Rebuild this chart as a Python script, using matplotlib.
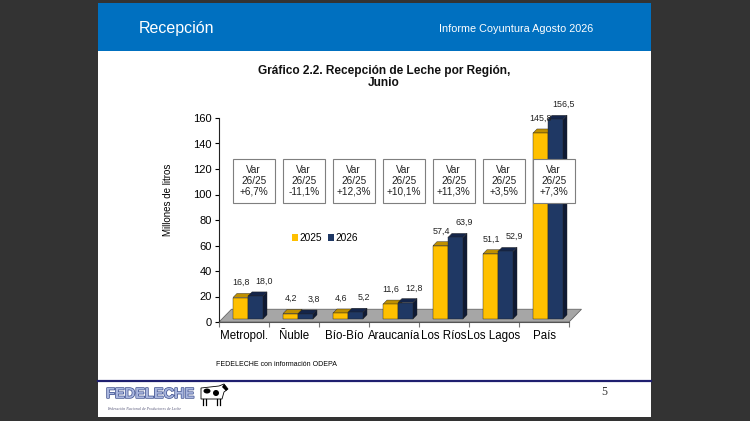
import matplotlib
matplotlib.use("Agg")
import matplotlib.pyplot as plt
from matplotlib.patches import Rectangle, Polygon, Patch, Ellipse
import matplotlib.patheffects as pe

plt.rcParams['font.family'] = ['Liberation Sans', 'DejaVu Sans']

# datos: recepción de leche por región, junio (millones de litros)
regiones = ["Metropol.", "Ñuble", "Bío-Bío", "Araucanía", "Los Ríos", "Los Lagos", "País"]
series = ["2025", "2026"]
recep_2025 = [16.8, 4.2, 4.6, 11.6, 57.4, 51.1, 145.8]
recep_2026 = [18.0, 3.8, 5.2, 12.8, 63.9, 52.9, 156.5]
variacion = ["+6,7%", "-11,1%", "+12,3%", "+10,1%", "+11,3%", "+3,5%", "+7,3%"]
y_ticks = [0, 20, 40, 60, 80, 100, 120, 140, 160]

amarillo = ('#FFC000', '#BF9000', '#8F6C00')
azul = ('#1F3864', '#14254A', '#0E1A35')

fig = plt.figure(figsize=(7.5, 4.21), dpi=100, facecolor='#333333')

# fondo de la diapositiva en pixeles
bg = fig.add_axes([0, 0, 1, 1], zorder=0)
bg.set_xlim(0, 750)
bg.set_ylim(421, 0)
bg.axis('off')
bg.add_patch(Rectangle((98, 2.5), 553, 414.5, facecolor='white', edgecolor='none'))
bg.add_patch(Rectangle((98, 2.5), 553, 48, facecolor='#0070C0', edgecolor='none'))
bg.plot([98, 651], [381, 381], color='#1F1F6F', lw=1.6)
bg.text(139, 29, "Recepción", color='white', fontsize=11.5, va='center', ha='left')
bg.text(439, 29.5, "Informe Coyuntura Agosto 2026", color='white', fontsize=7.8,
        va='center', ha='left')
bg.text(384, 77, "Gráfico 2.2. Recepción de Leche por Región,\nJunio", fontsize=8.6,
        fontweight='bold', ha='center', va='center', multialignment='center',
        linespacing=1.0, color='#111111')
bg.text(168, 200, "Millones de litros", rotation=90, fontsize=7, ha='center', va='center')
bg.text(216, 364, "FEDELECHE con información ODEPA", fontsize=5, ha='left', va='center')
bg.text(604, 392, "5", fontsize=8.5, family='Liberation Serif', ha='center', va='center',
        color='#333333')

# logo
t = bg.text(106, 394, "FEDELECHE", fontsize=10.5, fontweight='bold', color='#A9B6DE',
            ha='left', va='center')
t.set_path_effects([pe.withStroke(linewidth=1.0, foreground='#3A4C8C')])
bg.text(107, 408.5, "Federación Nacional de Productores de Leche", fontsize=2.8,
        style='italic', family='Liberation Serif', color='#555577', ha='left', va='center')
bg.add_patch(Polygon([(201, 388), (219, 386), (224, 384), (228, 389), (224, 392),
                      (222, 399), (201, 399)], facecolor='white', edgecolor='black', lw=0.6))
bg.add_patch(Ellipse((207, 391), 7, 5, facecolor='black'))
bg.add_patch(Ellipse((216, 393), 6, 6, facecolor='black'))
bg.add_patch(Polygon([(224, 384), (228, 389), (226, 391), (222, 387)], facecolor='black'))
for lx in [203, 206, 217, 220]:
    bg.plot([lx, lx], [399, 405], color='black', lw=0.9)

# grafico
ax = fig.add_axes([219 / 750, 1 - 322 / 421, 350 / 750, 204 / 421], zorder=1)
ax.patch.set_alpha(0)
ax.set_xlim(0, 7)
ax.set_ylim(0, 160)
for s in ['top', 'right']:
    ax.spines[s].set_visible(False)
ax.spines['left'].set_color('#222222')
ax.spines['left'].set_linewidth(0.8)
ax.spines['bottom'].set_color('#555555')
ax.spines['bottom'].set_linewidth(0.8)

# piso 3D
fdx, fdy = 0.25, 10
ax.add_patch(Polygon([(0, 0), (7, 0), (7 + fdx, fdy), (fdx, fdy)], closed=True,
                     facecolor='#A6A6A6', edgecolor='#666666', lw=0.6, clip_on=False,
                     zorder=1))

base = 2.4
w = 0.3
dx, dy = 0.08, 3.2


def barra(x0, v, colores):
    frente, arriba, lado = colores
    ax.add_patch(Polygon([(x0 + w, base), (x0 + w + dx, base + dy),
                          (x0 + w + dx, base + v + dy), (x0 + w, base + v)],
                         facecolor=lado, edgecolor='#222222', lw=0.3, clip_on=False, zorder=2))
    ax.add_patch(Polygon([(x0, base + v), (x0 + w, base + v), (x0 + w + dx, base + v + dy),
                          (x0 + dx, base + v + dy)],
                         facecolor=arriba, edgecolor='#222222', lw=0.3, clip_on=False, zorder=2))
    ax.add_patch(Rectangle((x0, base), w, v, facecolor=frente, edgecolor='#222222',
                           lw=0.3, clip_on=False, zorder=2))


def etiqueta(v):
    return f"{v:.1f}".replace(".", ",")


for i in range(len(regiones)):
    barra(i + 0.28, recep_2025[i], amarillo)
    barra(i + 0.58, recep_2026[i], azul)
    ax.text(i + 0.44, recep_2025[i] + 14, etiqueta(recep_2025[i]), fontsize=6.4,
            ha='center', va='center', color='#222222', zorder=3)
    ax.text(i + 0.90, recep_2026[i] + 14, etiqueta(recep_2026[i]), fontsize=6.4,
            ha='center', va='center', color='#222222', zorder=3, clip_on=False)
    # cuadro de variacion
    ax.add_patch(Rectangle((i + 0.27, 93.3), 0.85, 34.5, facecolor='white',
                           edgecolor='#7F7F7F', lw=0.8, zorder=5, clip_on=False))
    ax.text(i + 0.695, 110.6, "Var\n26/25\n" + variacion[i], fontsize=7.2, ha='center',
            va='center', multialignment='center', linespacing=1.1, zorder=6,
            color='#222222')

ax.set_yticks(y_ticks)
ax.tick_params(axis='y', labelsize=8, length=3, pad=2, width=0.8)
ax.set_xticks(range(0, 8))
ax.set_xticklabels([])
ax.set_xticks([i + 0.5 for i in range(len(regiones))], minor=True)
ax.set_xticklabels(regiones, minor=True)
ax.tick_params(axis='x', which='major', length=3.5, color='#777777', width=0.8)
ax.tick_params(axis='x', which='minor', length=0, labelsize=8.3, pad=6)

manijas = [Patch(facecolor=amarillo[0], edgecolor='none'),
           Patch(facecolor=azul[0], edgecolor='none')]
ax.legend(manijas, series, loc='center', bbox_to_anchor=(0.303, 0.412), ncol=2,
          frameon=False, fontsize=7.3, handlelength=0.6, handleheight=0.6,
          handletextpad=0.15, columnspacing=0.6, borderaxespad=0, borderpad=0)

fig.savefig("out.png", dpi=100, facecolor=fig.get_facecolor())
